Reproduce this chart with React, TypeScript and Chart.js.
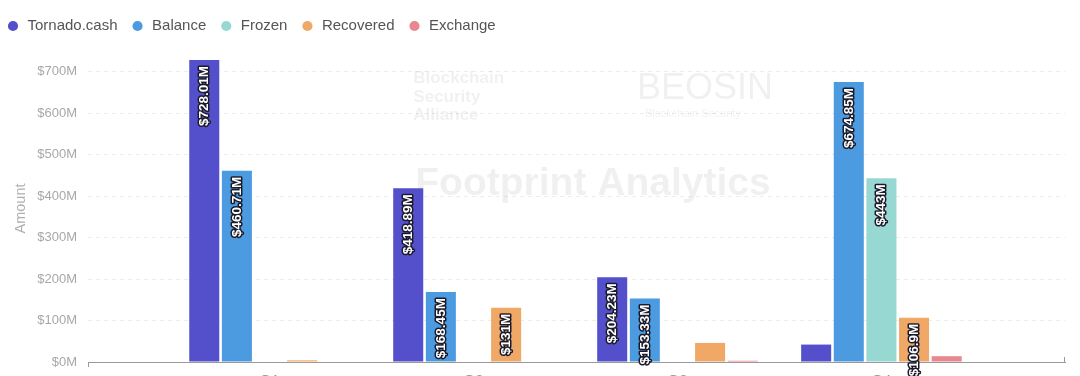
import React, { useEffect, useRef } from 'react';
import { Chart, registerables } from 'chart.js';

Chart.register(...registerables);

// ---- data ----
const quarters = ['Q1', 'Q2', 'Q3', 'Q4'];
const tornadoCash = [728.01, 418.89, 204.23, 42];
const balance = [460.71, 168.45, 153.33, 674.85];
const frozen = [0, 0, 0, 443];
const recovered = [4, 131, 46, 106.9];
const exchange = [0, 0, 3, 14];
const seriesNames = ['Tornado.cash', 'Balance', 'Frozen', 'Recovered', 'Exchange'];
const seriesColors = ['#5450cc', '#4c9be0', '#98d8d3', '#f0a866', '#e8878f'];
const yTickStep = 100;
const yMax = 740;
const labelThreshold = 100;

const FONT = '"Liberation Sans", Arial, Helvetica, sans-serif';

const toPoints = (arr: number[]) => arr.map((v, i) => ({ x: i + 1, y: v }));

const barLabels = {
  id: 'barLabels',
  afterDatasetsDraw(chart: any) {
    const ctx = chart.ctx;
    ctx.save();
    ctx.font = `bold 13.5px ${FONT}`;
    ctx.textAlign = 'right';
    ctx.textBaseline = 'middle';
    ctx.lineJoin = 'round';
    chart.data.datasets.forEach((ds: any, di: number) => {
      const meta = chart.getDatasetMeta(di);
      meta.data.forEach((el: any, i: number) => {
        const v = ds.data[i].y;
        if (v < labelThreshold) return;
        const text = `$${v}M`;
        ctx.save();
        ctx.translate(el.x, el.y + 6);
        ctx.rotate(-Math.PI / 2);
        ctx.lineWidth = 3;
        ctx.strokeStyle = '#1a1a2a';
        ctx.strokeText(text, 0, 0);
        ctx.fillStyle = '#ffffff';
        ctx.fillText(text, 0, 0);
        ctx.restore();
      });
    });
    ctx.restore();
  },
};

const watermarks = {
  id: 'watermarks',
  beforeDatasetsDraw(chart: any) {
    const { ctx, chartArea } = chart;
    const w = chartArea.right - chartArea.left;
    const L = chartArea.left;
    ctx.save();
    ctx.fillStyle = 'rgba(0,0,0,0.06)';
    ctx.textBaseline = 'middle';
    ctx.textAlign = 'left';
    ctx.font = `bold 17px ${FONT}`;
    const bx = L + w * 0.333;
    ctx.fillText('Blockchain', bx, 78);
    ctx.fillText('Security', bx, 97);
    ctx.fillText('Alliance', bx, 115);
    ctx.font = `36px ${FONT}`;
    ctx.fillText('BEOSIN', L + w * 0.562, 89);
    ctx.font = `11px ${FONT}`;
    ctx.fillText('Blockchain Security', L + w * 0.57, 114);
    ctx.font = `bold 39px ${FONT}`;
    ctx.fillText('Footprint Analytics', L + w * 0.335, 184);
    ctx.restore();
  },
};

const axisEndTicks = {
  id: 'axisEndTicks',
  afterDraw(chart: any) {
    const { ctx, chartArea } = chart;
    ctx.save();
    ctx.strokeStyle = '#9a9a9a';
    ctx.lineWidth = 1;
    ctx.beginPath();
    ctx.moveTo(chartArea.left + 0.5, chartArea.bottom);
    ctx.lineTo(chartArea.left + 0.5, chartArea.bottom + 5);
    ctx.moveTo(chartArea.right - 0.5, chartArea.bottom);
    ctx.lineTo(chartArea.right - 0.5, chartArea.bottom - 5);
    ctx.stroke();
    ctx.restore();
  },
};

const legendSpacer = {
  id: 'legendSpacer',
  beforeInit(chart: any) {
    const legend = chart.legend;
    if (!legend) return;
    const originalFit = legend.fit;
    legend.fit = function fit() {
      originalFit.bind(legend)();
      this.height += 17;
    };
  },
  afterLayout(chart: any) {
    if (chart.legend) {
      chart.legend.left -= 15;
      chart.legend.top += 5.5;
    }
  },
};

export default function App() {
  const ref = useRef<HTMLCanvasElement | null>(null);

  useEffect(() => {
    if (!ref.current) return;
    const seriesData = [tornadoCash, balance, frozen, recovered, exchange];
    const chart = new Chart(ref.current, {
      type: 'bar',
      data: {
        datasets: seriesData.map((arr, i) => ({
          label: seriesNames[i],
          data: toPoints(arr),
          backgroundColor: seriesColors[i],
          borderWidth: 0,
          categoryPercentage: 0.8,
          barPercentage: 0.92,
        })),
      },
      options: {
        animation: false,
        responsive: false,
        devicePixelRatio: 1,
        layout: { padding: { left: 8, right: 15, top: 0, bottom: 0 } },
        plugins: {
          tooltip: { enabled: false },
          legend: {
            position: 'top',
            align: 'start',
            labels: {
              usePointStyle: true,
              pointStyle: 'circle',
              boxWidth: 14,
              boxHeight: 7.2,
              padding: 13,
              color: '#555555',
              font: { family: FONT, size: 15 },
            },
          },
        },
        scales: {
          x: {
            type: 'linear',
            offset: false,
            min: 0.11,
            max: 4.9,
            grid: { display: false, drawTicks: false },
            border: { display: true, color: '#9a9a9a', width: 1 },
            afterBuildTicks: (scale: any) => {
              scale.ticks = quarters.map((_, i) => ({ value: i + 1 }));
            },
            ticks: {
              padding: 10,
              color: '#999999',
              font: { family: FONT, size: 15 },
              callback: (v: any) => quarters[Number(v) - 1] ?? '',
            },
          },
          y: {
            min: 0,
            max: yMax,
            grid: { color: '#ededed', drawTicks: false },
            border: { display: false, dash: [4, 4] },
            afterFit: (scale: any) => {
              scale.width = 80;
            },
            ticks: {
              stepSize: yTickStep,
              includeBounds: false,
              padding: 11,
              color: '#a8a8a8',
              font: { family: FONT, size: 13 },
              callback: (v: any) => `$${v}M`,
            },
            title: {
              display: true,
              text: 'Amount',
              color: '#b0b0b0',
              font: { family: FONT, size: 14.5 },
              padding: { top: 4, bottom: 4 },
            },
          },
        },
      },
      plugins: [legendSpacer, watermarks, barLabels, axisEndTicks],
    } as any);
    return () => chart.destroy();
  }, []);

  return (
    <div
      style={{
        position: 'fixed',
        left: 0,
        top: 0,
        width: 1080,
        height: 376,
        overflow: 'hidden',
        background: '#ffffff',
      }}
    >
      <canvas ref={ref} width={1080} height={400} style={{ display: 'block' }} />
    </div>
  );
}
